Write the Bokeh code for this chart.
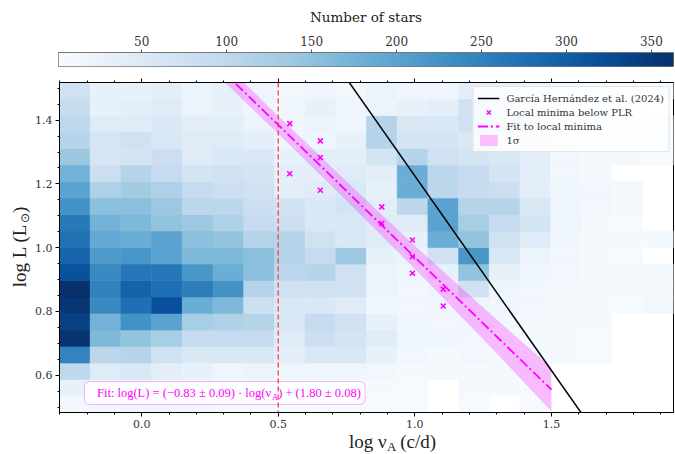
import numpy as np
from bokeh.plotting import figure
from bokeh.models import (Range1d, LinearColorMapper, Label, BoxAnnotation, Span,
                          Legend, LegendItem, FixedTicker, ColumnDataSource,
                          LinearAxis, PrintfTickFormatter, CustomJSTickFormatter)
from bokeh.transform import transform
from bokeh.layouts import column, row
from bokeh.palettes import Blues256
from bokeh.embed import file_html
from bokeh.resources import INLINE

# ---------------- data ----------------
X_EDGE_MIN, X_EDGE_MAX = -0.301, 1.947   # log nu_A bin range
Y_EDGE_MIN, Y_EDGE_MAX = 0.483, 1.518    # log L bin range
N_BINS = 20
COUNT_MIN, COUNT_MAX = 1, 363

# star counts per log(nu_A) column, each list from lowest to highest log L bin
col_00 = [12, 30, 100, 248, 357, 340, 355, 363, 317, 290, 272, 262, 225, 200, 175, 140, 110, 100, 90, 75]
col_01 = [12, 19, 45, 103, 165, 176, 238, 249, 238, 212, 190, 176, 154, 117, 81, 63, 63, 45, 30, 30]
col_02 = [15, 23, 56, 110, 147, 227, 274, 292, 263, 219, 183, 165, 154, 132, 110, 67, 74, 45, 37, 30]
col_03 = [16, 19, 37, 74, 128, 201, 318, 274, 263, 201, 201, 147, 139, 117, 92, 81, 56, 52, 45, 37]
col_04 = [12, 16, 30, 56, 92, 128, 183, 256, 219, 165, 154, 139, 103, 92, 67, 45, 45, 37, 23, 23]
col_05 = [8, 12, 19, 56, 92, 117, 165, 227, 183, 165, 147, 117, 103, 81, 74, 56, 45, 37, 30, 30]
col_06 = [8, 12, 23, 56, 92, 110, 81, 110, 154, 154, 110, 92, 81, 74, 67, 56, 37, 23, 19, 19]
col_07 = [5, 8, 16, 37, 45, 56, 56, 74, 103, 110, 110, 81, 74, 37, 37, 30, 19, 19, 19, 12]
col_08 = [5, 8, 19, 56, 81, 92, 56, 74, 110, 92, 74, 56, 56, 45, 37, 37, 19, 23, 30, 19]
col_09 = [5, 8, 19, 56, 67, 74, 45, 74, 74, 139, 56, 56, 67, 56, 45, 37, 30, 19, 19, 12]
col_10 = [5, 8, 12, 30, 45, 30, 16, 23, 23, 30, 45, 45, 37, 30, 37, 67, 110, 110, 23, 23]
col_11 = [5, 5, 8, 12, 19, 16, 12, 12, 19, 23, 30, 45, 103, 183, 183, 110, 67, 56, 30, 19]
col_12 = [0, 0, 8, 8, 16, 12, 16, 19, 30, 74, 183, 201, 201, 103, 103, 74, 67, 56, 37, 19]
col_13 = [5, 8, 8, 12, 12, 16, 19, 74, 147, 219, 147, 128, 110, 92, 92, 67, 56, 74, 74, 37]
col_14 = [0, 8, 8, 8, 8, 12, 16, 19, 30, 56, 74, 92, 110, 81, 67, 56, 37, 56, 45, 30]
col_15 = [5, 5, 8, 8, 8, 8, 12, 12, 19, 23, 45, 67, 56, 37, 37, 37, 30, 30, 23, 23]
col_16 = [0, 0, 0, 8, 8, 8, 8, 8, 12, 12, 16, 19, 19, 16, 12, 12, 16, 16, 12, 12]
col_17 = [0, 0, 0, 5, 5, 8, 8, 8, 8, 8, 8, 8, 12, 12, 8, 8, 8, 8, 8, 8]
col_18 = [0, 0, 0, 0, 0, 0, 5, 8, 8, 5, 8, 5, 8, 8, 0, 8, 5, 5, 5, 5]
col_19 = [0, 0, 0, 0, 0, 0, 12, 8, 8, 0, 8, 0, 0, 0, 0, 5, 5, 5, 0, 5]
counts_by_column = [col_00, col_01, col_02, col_03, col_04, col_05, col_06, col_07,
                    col_08, col_09, col_10, col_11, col_12, col_13, col_14, col_15,
                    col_16, col_17, col_18, col_19]

# local minima below the PLR
minima_x = [0.542, 0.542, 0.654, 0.654, 0.654, 0.879, 0.879, 0.991, 0.991, 0.991, 1.104, 1.104]
minima_y = [1.389, 1.232, 1.335, 1.283, 1.180, 1.128, 1.076, 1.024, 0.972, 0.920, 0.870, 0.817]

# fit to local minima
fit_slope, fit_intercept = -0.83, 1.80
fit_x = [0.25, 1.5]
band_x = [0.25, 0.5, 0.75, 1.0, 1.25, 1.5]
band_hw = [0.030, 0.028, 0.030, 0.036, 0.050, 0.068]

# Garcia Hernandez et al. (2024) relation
gh_slope, gh_intercept = -1.22, 2.445
gh_x = [-0.301, 1.947]

red_line_x = 0.5
cb_ticks = [50, 100, 150, 200, 250, 300, 350]
x_major = [0.0, 0.5, 1.0, 1.5]
y_major = [0.6, 0.8, 1.0, 1.2, 1.4]

# ---------------- layout ----------------
W = 675
YLAB_W = 32
LEFT = 58            # frame left edge from page left
RIGHT = 2
CB_H = 68
MAIN_H = 364
XLAB_H = 22
M_TOP, M_BOT = 14, 20
SERIF = "DejaVu Serif"
MATH = "Liberation Serif"
INK = "#222222"

palette = list(Blues256)[::-1]
mapper = LinearColorMapper(palette=palette, low=COUNT_MIN, high=COUNT_MAX, nan_color="white")

# ---------------- colorbar figure ----------------
cb = figure(width=W, height=CB_H, x_range=Range1d(COUNT_MIN, COUNT_MAX), y_range=Range1d(0, 1),
            toolbar_location=None, output_backend="svg", x_axis_location="above",
            y_axis_location=None, min_border_left=LEFT, min_border_right=RIGHT,
            min_border_top=52, min_border_bottom=2)
grad = np.linspace(COUNT_MIN, COUNT_MAX, 256).reshape(1, -1)
cb.image(image=[grad], x=COUNT_MIN, y=0, dw=COUNT_MAX - COUNT_MIN, dh=1, color_mapper=mapper)
cb.grid.visible = False
cb.outline_line_color = "#777777"
ax = cb.xaxis[0]
ax.ticker = FixedTicker(ticks=cb_ticks)
ax.formatter = PrintfTickFormatter(format="%d")
ax.axis_label = "Number of stars"
ax.axis_label_text_font = SERIF
ax.axis_label_text_font_style = "normal"
ax.axis_label_text_font_size = "13.5px"
ax.axis_label_text_color = INK
ax.axis_label_standoff = 8
ax.major_label_text_font = SERIF
ax.major_label_text_font_size = "12px"
ax.major_label_text_color = "#333333"
ax.major_label_standoff = 4
ax.major_tick_out = 3
ax.major_tick_in = 0
ax.major_tick_line_color = "#555555"
ax.minor_tick_line_color = None
ax.axis_line_color = "#777777"

# ---------------- main figure ----------------
p = figure(width=W - YLAB_W, height=MAIN_H, x_range=Range1d(X_EDGE_MIN, X_EDGE_MAX),
           y_range=Range1d(Y_EDGE_MIN, Y_EDGE_MAX), toolbar_location=None,
           output_backend="svg", min_border_left=LEFT - YLAB_W, min_border_right=RIGHT,
           min_border_top=M_TOP, min_border_bottom=M_BOT)
p.grid.visible = False
p.outline_line_color = "black"
p.background_fill_color = "white"
FRAME_W = W - LEFT - RIGHT
FRAME_H = MAIN_H - M_TOP - M_BOT

x_edges = np.linspace(X_EDGE_MIN, X_EDGE_MAX, N_BINS + 1)
y_edges = np.linspace(Y_EDGE_MIN, Y_EDGE_MAX, N_BINS + 1)
L, R, B, T, C = [], [], [], [], []
for i, colvals in enumerate(counts_by_column):
    for j, c in enumerate(colvals):
        if c > 0:
            L.append(x_edges[i]); R.append(x_edges[i + 1])
            B.append(y_edges[j]); T.append(y_edges[j + 1]); C.append(c)
hsrc = ColumnDataSource(dict(left=L, right=R, bottom=B, top=T, count=C))
p.quad(left="left", right="right", bottom="bottom", top="top", source=hsrc,
       fill_color=transform("count", mapper), line_color=transform("count", mapper),
       line_width=0.6)

band_fit = [fit_slope * x + fit_intercept for x in band_x]
band_lo = [f - h for f, h in zip(band_fit, band_hw)]
band_hi = [f + h for f, h in zip(band_fit, band_hw)]
band_r = p.varea(x=band_x, y1=band_lo, y2=band_hi, fill_color="#ff00ff", fill_alpha=0.25)

gh_y = [gh_slope * x + gh_intercept for x in gh_x]
gh_r = p.line(gh_x, gh_y, line_color="black", line_width=1.5)

fit_y = [fit_slope * x + fit_intercept for x in fit_x]
fit_r = p.line(fit_x, fit_y, line_color="#ff00ff", line_width=1.8, line_dash="10 3 2 3")

min_r = p.scatter(minima_x, minima_y, marker="x", size=7, line_color="#ff00ff", line_width=1.6)

# axes
xt = FixedTicker(ticks=x_major, minor_ticks=list(np.round(np.arange(-0.3, 1.95, 0.1), 2)))
yt = FixedTicker(ticks=y_major, minor_ticks=list(np.round(np.arange(0.5, 1.52, 0.05), 2)))
for a, tk in ((p.xaxis[0], xt), (p.yaxis[0], yt)):
    a.ticker = tk
    a.formatter = PrintfTickFormatter(format="%.1f")
    a.major_label_text_font = SERIF
    a.major_label_text_font_size = "11px"
    a.major_label_text_color = "#333333"
    a.major_tick_out = 4
    a.major_tick_in = 0
    a.minor_tick_out = 2
    a.minor_tick_in = 0
    a.axis_line_color = "black"
    a.major_label_standoff = 3
top_ax = LinearAxis(ticker=xt, formatter=CustomJSTickFormatter(code="return ''"),
                    major_label_standoff=0, major_tick_out=4, major_tick_in=0,
                    minor_tick_out=2, minor_tick_in=0, axis_line_color="black")
p.add_layout(top_ax, "above")


def fx(dx):
    return X_EDGE_MIN + dx * (X_EDGE_MAX - X_EDGE_MIN) / FRAME_W


def fy(dy):
    return Y_EDGE_MIN + dy * (Y_EDGE_MAX - Y_EDGE_MIN) / FRAME_H


def lab(text, x, y, size, align="left", angle=0.0, font=MATH, color=INK,
        baseline="alphabetic"):
    return Label(x=x, y=y, text=text, text_font=font, text_font_size=f"{size}px",
                 text_align=align, text_baseline=baseline, angle=angle, text_color=color)


# fit annotation box (inside the frame)
box = BoxAnnotation(left=fx(25), right=fx(306), bottom=fy(8), top=fy(31),
                    fill_color="white", fill_alpha=0.8, line_color="#ff00ff",
                    line_width=1, border_radius=5)
p.add_layout(box)
MAG = "#ff00ff"
p.add_layout(lab("Fit: log(L) = (\u22120.83 \u00b1 0.09) \u00b7 log(\u03bd", fx(212), fy(19.5), 12.5, "right", color=MAG, baseline="middle"))
p.add_layout(lab("A", fx(212.5), fy(16), 9, "left", color=MAG, baseline="middle"))
p.add_layout(lab(") + (1.80 \u00b1 0.08)", fx(219), fy(19.5), 12.5, "left", color=MAG, baseline="middle"))

# red dashed line
p.add_layout(Span(location=red_line_x, dimension="height", line_color="#ff3030",
                  line_alpha=0.8, line_dash="5 3", line_width=1.5))

legend = Legend(items=[
    LegendItem(label="Garc\u00eda Hern\u00e1ndez et al. (2024)", renderers=[gh_r]),
    LegendItem(label="Local minima below PLR", renderers=[min_r]),
    LegendItem(label="Fit to local minima", renderers=[fit_r]),
    LegendItem(label="1\u03c3", renderers=[band_r]),
], location="top_right")
legend.label_text_font = SERIF
legend.label_text_font_size = "10px"
legend.label_text_color = "#333333"
legend.glyph_width = 22
legend.glyph_height = 14
legend.label_height = 14
legend.label_standoff = 7
legend.spacing = 0
legend.padding = 4
legend.margin = 4
legend.border_line_color = "#cccccc"
legend.background_fill_alpha = 0.8
p.add_layout(legend)


# ---------------- axis-label strips (pixel coordinates) ----------------
def strip(w, h):
    f = figure(width=w, height=h, x_range=Range1d(0, w), y_range=Range1d(0, h),
               toolbar_location=None, output_backend="svg", x_axis_location=None,
               y_axis_location=None, min_border=0, outline_line_color=None)
    f.grid.visible = False
    return f


ylab = strip(YLAB_W, MAIN_H)
ylab.add_layout(lab("log L (L", 19, 208, 19, "right", angle=np.pi / 2, baseline="middle"))
ylab.add_layout(lab("\u2299", 24, 208.5, 12, "left", angle=np.pi / 2, baseline="middle"))
ylab.add_layout(lab(")", 19, 220, 19, "left", angle=np.pi / 2, baseline="middle"))

xlab = strip(W, XLAB_H)
xlab.add_layout(lab("log \u03bd", 360, 13, 19, "right", baseline="middle"))
xlab.add_layout(lab("A", 360.5, 8, 13, "left", baseline="middle"))
xlab.add_layout(lab("(c/d)", 375, 13, 19, "left", baseline="middle"))

layout = column(cb, row(ylab, p, spacing=0), xlab, spacing=0)
open("out.html", "w").write(file_html(layout, INLINE))
